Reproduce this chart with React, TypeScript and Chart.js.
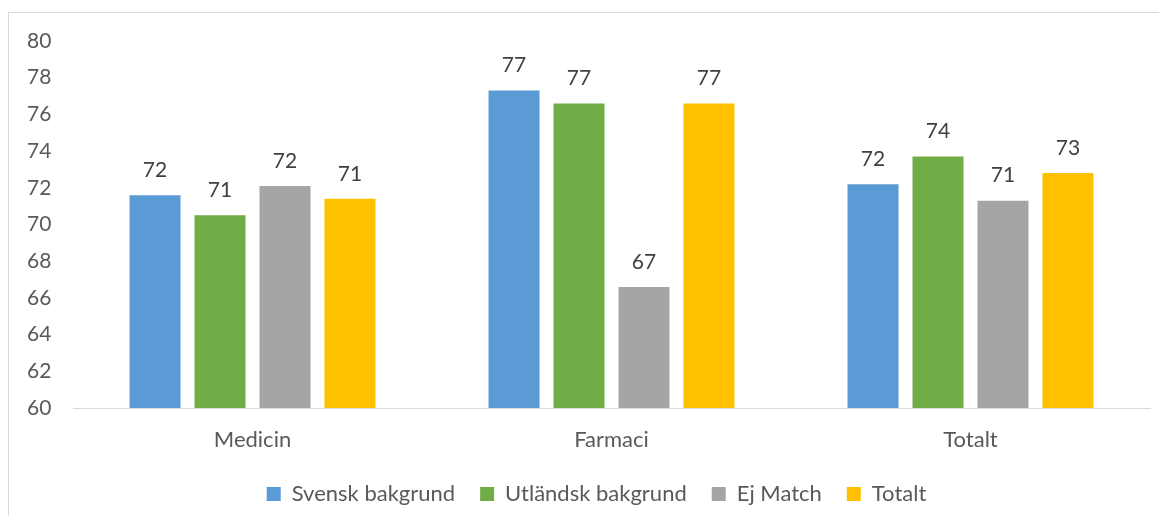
import React, { useEffect, useRef } from "react";
import { Chart, registerables } from "chart.js";

Chart.register(...registerables);

const categories = ["Medicin", "Farmaci", "Totalt"];
const seriesNames = ["Svensk bakgrund", "Utländsk bakgrund", "Ej Match", "Totalt"];
const svensk = [71.6, 77.3, 72.2];
const utlandsk = [70.5, 76.6, 73.7];
const ejMatch = [72.1, 66.6, 71.3];
const totalt = [71.4, 76.6, 72.8];
const colors = ["#5B9BD5", "#70AD47", "#A5A5A5", "#FFC000"];
const FONT = "Lato";

const valueLabels = {
  id: "valueLabels",
  afterDatasetsDraw(chart: any) {
    const ctx = chart.ctx;
    ctx.save();
    ctx.font = `21px ${FONT}`;
    ctx.fillStyle = "#404040";
    ctx.textAlign = "center";
    ctx.textBaseline = "middle";
    chart.data.datasets.forEach((ds: any, i: number) => {
      const meta = chart.getDatasetMeta(i);
      meta.data.forEach((bar: any, j: number) => {
        ctx.fillText(String(Math.round(ds.data[j])), bar.x, bar.y - 25);
      });
    });
    ctx.restore();
  },
};

const legendShift = {
  id: "legendShift",
  afterLayout(chart: any) {
    const lg = chart.legend;
    if (lg) {
      lg.left += 8;
      lg.right += 8;
    }
  },
};

export default function App() {
  const ref = useRef<HTMLCanvasElement>(null);
  useEffect(() => {
    const data = [svensk, utlandsk, ejMatch, totalt];
    const chart = new Chart(ref.current!, {
      type: "bar",
      data: {
        labels: categories,
        datasets: seriesNames.map((n, i) => ({
          label: n,
          data: data[i],
          backgroundColor: colors[i],
          borderWidth: 0,
          categoryPercentage: 0.724,
          barPercentage: 0.785,
        })),
      },
      options: {
        animation: false,
        responsive: false,
        maintainAspectRatio: false,
        layout: { padding: { top: 28, bottom: 1, left: 18, right: 9 } },
        plugins: {
          tooltip: { enabled: false },
          legend: {
            position: "bottom",
            labels: {
              boxWidth: 14,
              boxHeight: 14,
              padding: 25,
              color: "#595959",
              font: { family: FONT, size: 22 },
            },
          },
        },
        scales: {
          x: {
            grid: { display: false, drawTicks: false },
            border: { display: true, color: "#d9d9d9", width: 1 },
            ticks: { color: "#595959", padding: 19, font: { family: FONT, size: 22 } },
            afterFit: (s: any) => { s.height = 50; },
          },
          y: {
            min: 60,
            max: 80,
            grid: { display: false, drawTicks: false },
            border: { display: false },
            ticks: { stepSize: 2, color: "#595959", padding: 0, crossAlign: "far", font: { family: FONT, size: 21 } },
            afterFit: (s: any) => { s.width = 46; },
          },
        },
      },
      plugins: [valueLabels, legendShift],
    } as any);
    return () => chart.destroy();
  }, []);
  return (
    <div style={{ paddingTop: 4 }}>
      <div style={{ width: 1150, height: 503, borderTop: "1px solid #d9d9d9", borderLeft: "1px solid #d9d9d9" }}>
        <canvas ref={ref} width={1150} height={503} style={{ display: "block" }} />
      </div>
    </div>
  );
}
